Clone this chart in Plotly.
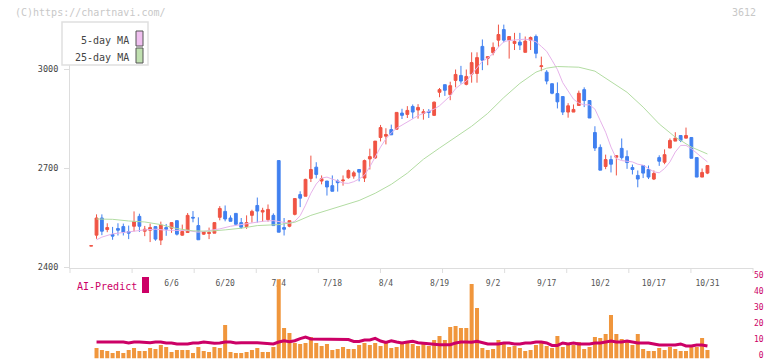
import plotly.graph_objects as go
import pandas as pd

# ---------------- data ----------------
holidays = ["2025-07-21", "2025-08-11", "2025-09-15", "2025-09-23", "2025-10-13"]
dates = [d.strftime("%Y-%m-%d") for d in pd.bdate_range("2025-05-16", "2025-10-31")
         if d.strftime("%Y-%m-%d") not in holidays]

open_ = [2465, 2498, 2550, 2515, 2500, 2518, 2524, 2509, 2525, 2555, 2510, 2513, 2524, 2483, 2521, 2519,
         2542, 2498, 2506, 2552, 2527, 2501, 2503, 2504, 2552, 2570, 2550, 2564, 2536, 2524, 2558, 2588,
         2568, 2545, 2558, 2724, 2521, 2525, 2561, 2621, 2616, 2670, 2704, 2662, 2662, 2648, 2662, 2663,
         2672, 2677, 2697, 2671, 2729, 2732, 2794, 2798, 2818, 2819, 2868, 2864, 2888, 2877, 2867, 2873,
         2861, 2931, 2954, 2924, 2967, 2982, 2955, 2986, 2988, 3070, 3034, 3051, 3089, 3121, 3089, 3079,
         3083, 3052, 3089, 3100, 3009, 2992, 2957, 2927, 2918, 2871, 2871, 2891, 2939, 2906, 2809, 2764,
         2706, 2727, 2734, 2761, 2736, 2703, 2679, 2709, 2697, 2668, 2733, 2719, 2762, 2783, 2800, 2792,
         2794, 2733, 2674, 2686]
high = [2466, 2561, 2561, 2534, 2523, 2534, 2533, 2527, 2570, 2563, 2526, 2533, 2524, 2539, 2532, 2536,
        2542, 2530, 2565, 2571, 2552, 2510, 2521, 2537, 2586, 2588, 2558, 2565, 2550, 2558, 2575, 2612,
        2581, 2591, 2564, 2724, 2550, 2542, 2609, 2631, 2669, 2739, 2719, 2679, 2662, 2679, 2667, 2679,
        2697, 2693, 2697, 2727, 2760, 2783, 2832, 2822, 2833, 2870, 2881, 2889, 2894, 2895, 2880, 2880,
        2903, 2944, 2954, 2963, 3000, 3011, 3000, 3052, 3052, 3091, 3039, 3082, 3136, 3136, 3100, 3111,
        3111, 3100, 3100, 3106, 3039, 2998, 2957, 2961, 2918, 2898, 2894, 2936, 2946, 2906, 2828, 2773,
        2742, 2739, 2739, 2791, 2755, 2712, 2694, 2709, 2709, 2694, 2740, 2758, 2791, 2810, 2800, 2824,
        2794, 2733, 2700, 2709]
low = [2465, 2487, 2498, 2507, 2484, 2497, 2497, 2486, 2509, 2508, 2495, 2477, 2481, 2468, 2496, 2505,
       2497, 2496, 2506, 2537, 2484, 2499, 2486, 2504, 2543, 2540, 2540, 2530, 2517, 2517, 2536, 2536,
       2539, 2539, 2527, 2507, 2497, 2522, 2558, 2583, 2616, 2659, 2670, 2652, 2618, 2631, 2630, 2648,
       2669, 2669, 2661, 2659, 2697, 2729, 2782, 2773, 2802, 2819, 2850, 2853, 2851, 2851, 2848, 2853,
       2859, 2916, 2920, 2907, 2946, 2957, 2952, 2960, 2960, 2998, 3013, 3043, 3069, 3082, 3033, 3059,
       3059, 3052, 3059, 3034, 2995, 2955, 2925, 2882, 2862, 2854, 2871, 2891, 2886, 2853, 2753, 2695,
       2698, 2688, 2679, 2727, 2699, 2682, 2643, 2671, 2668, 2665, 2708, 2713, 2762, 2783, 2780, 2792,
       2731, 2674, 2674, 2683]
close = [2466, 2550, 2510, 2521, 2495, 2513, 2507, 2504, 2539, 2525, 2516, 2521, 2486, 2529, 2516, 2536,
         2501, 2509, 2558, 2550, 2484, 2509, 2506, 2536, 2579, 2547, 2540, 2531, 2522, 2536, 2570, 2571,
         2573, 2576, 2527, 2507, 2516, 2542, 2609, 2610, 2667, 2697, 2682, 2669, 2644, 2631, 2657, 2665,
         2694, 2687, 2689, 2724, 2736, 2783, 2824, 2803, 2802, 2870, 2861, 2876, 2871, 2885, 2872, 2870,
         2901, 2939, 2937, 2951, 2985, 2965, 2979, 3021, 3036, 3028, 3039, 3067, 3106, 3089, 3100, 3085,
         3074, 3086, 3097, 3049, 3011, 2965, 2928, 2902, 2871, 2890, 2879, 2928, 2906, 2853, 2762, 2695,
         2727, 2713, 2739, 2733, 2718, 2697, 2668, 2686, 2674, 2685, 2722, 2742, 2785, 2792, 2785, 2800,
         2731, 2674, 2688, 2709]

# volume and AI-predict line, from 2025-05-19 on
volume = [6.6, 5.3, 4.7, 3.4, 4.7, 3.4, 5.3, 6.6, 4.7, 4.7, 6.6, 5.9, 8.4, 7.2, 4.1, 5.3, 5.3, 5.3, 3.4, 7.2,
          4.7, 4.1, 7.2, 6.6, 20.9, 4.1, 3.4, 3.4, 4.1, 5.3, 6.6, 4.1, 4.1, 7.2, 49.5, 19.1, 15.9, 9.7, 9.1,
          9.7, 13.4, 9.7, 7.8, 9.1, 5.3, 5.9, 7.2, 5.9, 5.9, 8.4, 9.7, 8.4, 9.7, 7.8, 9.7, 6.6, 7.2, 9.1,
          10.3, 9.1, 7.8, 10.3, 7.8, 11.6, 14.1, 11.6, 19.7, 20.3, 19.1, 19.1, 46.6, 31.6, 6.6, 5.3, 5.9,
          11.6, 9.7, 7.2, 7.8, 6.6, 4.7, 5.3, 8.4, 10.3, 7.8, 6.6, 14.1, 7.2, 8.4, 8.4, 10.3, 5.9, 7.2, 13.4,
          12.8, 15.3, 27.2, 15.3, 12.2, 11.6, 8.4, 15.3, 5.9, 4.7, 4.7, 6.6, 5.3, 7.2, 5.9, 4.7, 4.7, 7.2,
          7.2, 12.8, 5.3]
ai_predict = [10.3, 10.3, 10.3, 10.3, 9.9, 10.3, 9.7, 10.3, 10.3, 10.1, 9.9, 10.3, 10.3, 9.7, 9.7, 9.1,
              9.1, 9.1, 9.7, 9.7, 10.3, 9.7, 9.5, 9.7, 10.3, 10.3, 9.7, 9.9, 9.7, 9.9, 9.9, 9.7, 9.3, 9.1,
              10.3, 11.1, 10.5, 11.1, 12.4, 13.4, 12.2, 12.2, 12.0, 12.0, 12.2, 12.2, 12.2, 11.8, 10.7,
              10.7, 11.6, 11.6, 12.6, 10.9, 10.1, 11.1, 10.3, 9.7, 10.3, 10.7, 9.9, 9.5, 9.1, 8.6, 8.6, 8.6,
              8.6, 9.7, 10.3, 10.3, 10.1, 10.7, 9.9, 9.1, 9.1, 9.1, 9.7, 9.7, 9.1, 9.1, 9.7, 9.7, 10.3,
              10.3, 9.7, 8.2, 8.2, 9.7, 9.1, 9.7, 9.1, 9.1, 9.1, 9.7, 9.7, 10.3, 10.9, 10.3, 10.3, 10.9,
              10.3, 9.7, 9.7, 9.7, 9.1, 8.4, 8.4, 8.4, 8.4, 9.1, 7.8, 7.8, 8.4, 8.4, 7.8]

# moving averages (candle number from 2025-05-19, value)
ma5_at = [0, 1, 3, 5, 7, 9, 11, 13, 15, 17, 19, 21, 23, 25, 27, 29, 31, 33, 35, 36, 37, 38, 39, 40, 41,
          42, 43, 44, 45, 46, 47, 48, 49, 50, 51, 52, 53, 54, 55, 56, 57, 58, 59, 60, 61, 62, 63, 64, 65,
          66, 67, 68, 69, 70, 71, 72, 73, 74, 75, 76, 77, 78, 79, 80, 81, 82, 83, 84, 85, 86, 87, 88, 89,
          90, 91, 92, 93, 94, 95, 96, 97, 98, 99, 100, 101, 102, 103, 104, 105, 106, 107, 108, 109, 110,
          111, 112, 113, 114]
ma5 = [2484, 2492, 2502, 2507, 2510, 2514, 2516, 2513, 2513, 2512, 2507, 2512, 2517, 2525, 2530, 2534,
       2540, 2542, 2538, 2534, 2540, 2557, 2589, 2625, 2653, 2671, 2674, 2668, 2660, 2656, 2655, 2660,
       2668, 2680, 2705, 2735, 2765, 2790, 2808, 2822, 2832, 2842, 2850, 2860, 2867, 2873, 2880, 2890,
       2905, 2920, 2942, 2955, 2965, 2985, 3005, 3025, 3035, 3048, 3068, 3084, 3088, 3089, 3090, 3092,
       3089, 3084, 3070, 3055, 3028, 3000, 2960, 2936, 2910, 2898, 2893, 2893, 2880, 2845, 2810, 2765,
       2730, 2724, 2722, 2720, 2713, 2710, 2700, 2690, 2687, 2700, 2720, 2750, 2770, 2770, 2760, 2745,
       2733, 2720]
ma25_at = [0, 3, 6, 9, 12, 15, 18, 21, 24, 27, 30, 34, 37, 40, 43, 46, 49, 52, 55, 58, 61, 64, 67, 70,
           73, 76, 79, 82, 84, 86, 88, 90, 93, 96, 99, 102, 105, 108, 111, 114]
ma25 = [2547, 2546, 2541, 2538, 2530, 2518, 2511, 2510, 2514, 2519, 2527, 2530, 2537, 2558, 2573, 2588,
        2603, 2625, 2652, 2686, 2728, 2762, 2795, 2828, 2867, 2915, 2958, 2992, 3004, 3009, 3008, 3007,
        2995, 2962, 2931, 2886, 2835, 2795, 2765, 2744]

tick_dates = ["2025-06-06", "2025-06-20", "2025-07-04", "2025-07-18", "2025-08-04", "2025-08-19",
              "2025-09-02", "2025-09-17", "2025-10-02", "2025-10-17", "2025-10-31"]
tick_text = ["6/6", "6/20", "7/4", "7/18", "8/4", "8/19", "9/2", "9/17", "10/2", "10/17", "10/31"]

# ---------------- styling helpers ----------------
W, H = 772, 361
ML, MR = 70, 19
PW = W - ML - MR
def px(xp):
    return (xp - ML) / PW
def py(yp):
    return (H - yp) / H

FONT = "DejaVu Sans Mono"
RED, BLUE = "#f05444", "#4080f0"
CRIMSON = "#cc0066"

vol_dates = dates[1:]
fig = go.Figure()
fig.add_trace(go.Candlestick(
    x=dates, open=open_, high=high, low=low, close=close,
    increasing=dict(line=dict(color=RED, width=1), fillcolor=RED),
    decreasing=dict(line=dict(color=BLUE, width=1), fillcolor=BLUE),
    whiskerwidth=0, xaxis="x", yaxis="y", showlegend=False, hoverinfo="skip"))
fig.add_trace(go.Scatter(x=[vol_dates[i] for i in ma5_at], y=ma5, mode="lines",
                         line=dict(color="#e6b2ea", width=1), xaxis="x", yaxis="y", showlegend=False))
fig.add_trace(go.Scatter(x=[vol_dates[i] for i in ma25_at], y=ma25, mode="lines",
                         line=dict(color="#b2dca2", width=1), xaxis="x", yaxis="y", showlegend=False))
fig.add_trace(go.Bar(x=vol_dates, y=volume, marker=dict(color="#f0963c", line=dict(width=0)),
                     xaxis="x2", yaxis="y2", showlegend=False))
fig.add_trace(go.Scatter(x=vol_dates, y=ai_predict, mode="lines", line=dict(color=CRIMSON, width=3),
                         xaxis="x2", yaxis="y2", showlegend=False))

xr = [-3.95, 123.5]
main_bot, main_top = 267.5, 22
vol_bot, vol_top = 358.5, 271
fig.update_layout(
    width=W, height=H, margin=dict(l=ML, r=MR, t=0, b=0, autoexpand=False),
    paper_bgcolor="white", plot_bgcolor="white",
    boxgap=0.25, bargap=0.25,
    font=dict(family=FONT, size=8, color="#555"),
    xaxis=dict(domain=[0, 1], type="category", categoryorder="array", categoryarray=dates,
               range=xr, rangeslider=dict(visible=False), anchor="y", automargin=False,
               showline=True, linecolor="#dddddd", linewidth=1, showgrid=False, zeroline=False,
               tickmode="array", tickvals=tick_dates, ticktext=tick_text, ticks="",
               ticklabelstandoff=8, tickfont=dict(size=8, color="#555")),
    yaxis=dict(domain=[py(main_bot), py(main_top)], automargin=False,
               range=[2400, 2400 + (main_bot - main_top) * 600 / 198],
               showline=True, linecolor="#dddddd", linewidth=1, showgrid=False, zeroline=False,
               tickmode="array", tickvals=[2400, 2700, 3000], ticks="outside", ticklen=5,
               tickcolor="#dddddd", ticklabelstandoff=4, tickfont=dict(size=8.5, color="#444")),
    xaxis2=dict(domain=[0, 1], type="category", categoryorder="array", categoryarray=dates,
                range=xr, anchor="y2", showline=False, showgrid=False, zeroline=False, automargin=False,
                showticklabels=False, ticks=""),
    yaxis2=dict(domain=[py(vol_bot), py(vol_top)], range=[0, (vol_bot - vol_top) / 1.6],
                side="right", anchor="x2", showline=False, showgrid=False, zeroline=False,
                automargin=False, ticklabeloverflow="allow", ticklabelshift=-3,
                tickmode="array", tickvals=[0, 10, 20, 30, 40, 50],
                ticktext=[" 0", "10", "20", "30", "40", "50"], ticks="",
                ticklabelstandoff=0, tickfont=dict(size=8, color=CRIMSON)),
)

shapes = []
# short x tick marks under the price panel
for k in range(12):
    shapes.append(dict(type="line", xref="x domain", yref="paper", x0=k / 11, x1=k / 11,
                       y0=py(268), y1=py(273), line=dict(color="#dddddd", width=1)))
# legend box
shapes.append(dict(type="rect", xref="paper", yref="paper", x0=px(62), x1=px(148), y0=py(65), y1=py(22),
                   fillcolor="white", line=dict(color="#e0e0e0", width=1.5), layer="above"))
shapes.append(dict(type="rect", xref="paper", yref="paper", x0=px(136), x1=px(143), y0=py(46), y1=py(31),
                   fillcolor="#f0c0f0", line=dict(color="#555", width=1), layer="above"))
shapes.append(dict(type="rect", xref="paper", yref="paper", x0=px(136), x1=px(143), y0=py(63), y1=py(48),
                   fillcolor="#c0e0b0", line=dict(color="#555", width=1), layer="above"))
# AI-Predict swatch
shapes.append(dict(type="rect", xref="paper", yref="paper", x0=px(142), x1=px(149), y0=py(293), y1=py(277),
                   fillcolor=CRIMSON, line=dict(width=0), layer="above"))
fig.update_layout(shapes=shapes)

ann = [
    dict(text="5-day MA", x=px(131), y=py(40), xanchor="right", yanchor="middle",
         font=dict(size=10, color="#444")),
    dict(text="25-day MA", x=px(131), y=py(57), xanchor="right", yanchor="middle",
         font=dict(size=10, color="#444")),
    dict(text="AI-Predict", x=px(75), y=py(286), xanchor="left", yanchor="middle",
         font=dict(size=10, color=CRIMSON)),
    dict(text="(C)https://chartnavi.com/", x=px(13), y=py(12.5), xanchor="left", yanchor="middle",
         font=dict(size=10, color="#c8c8c8")),
    dict(text="3612", x=px(758), y=py(12.5), xanchor="right", yanchor="middle",
         font=dict(size=10, color="#c8c8c8")),
]
for a in ann:
    a.update(xref="paper", yref="paper", showarrow=False)
fig.update_layout(annotations=ann)

fig.write_html("out.html", config={"displayModeBar": False, "responsive": False},
               post_script="document.documentElement.style.margin='0';"
                           "document.body.style.margin='0';document.body.style.padding='0';"
                           "document.documentElement.style.overflow='hidden';"
                           "document.body.style.overflow='hidden';")
